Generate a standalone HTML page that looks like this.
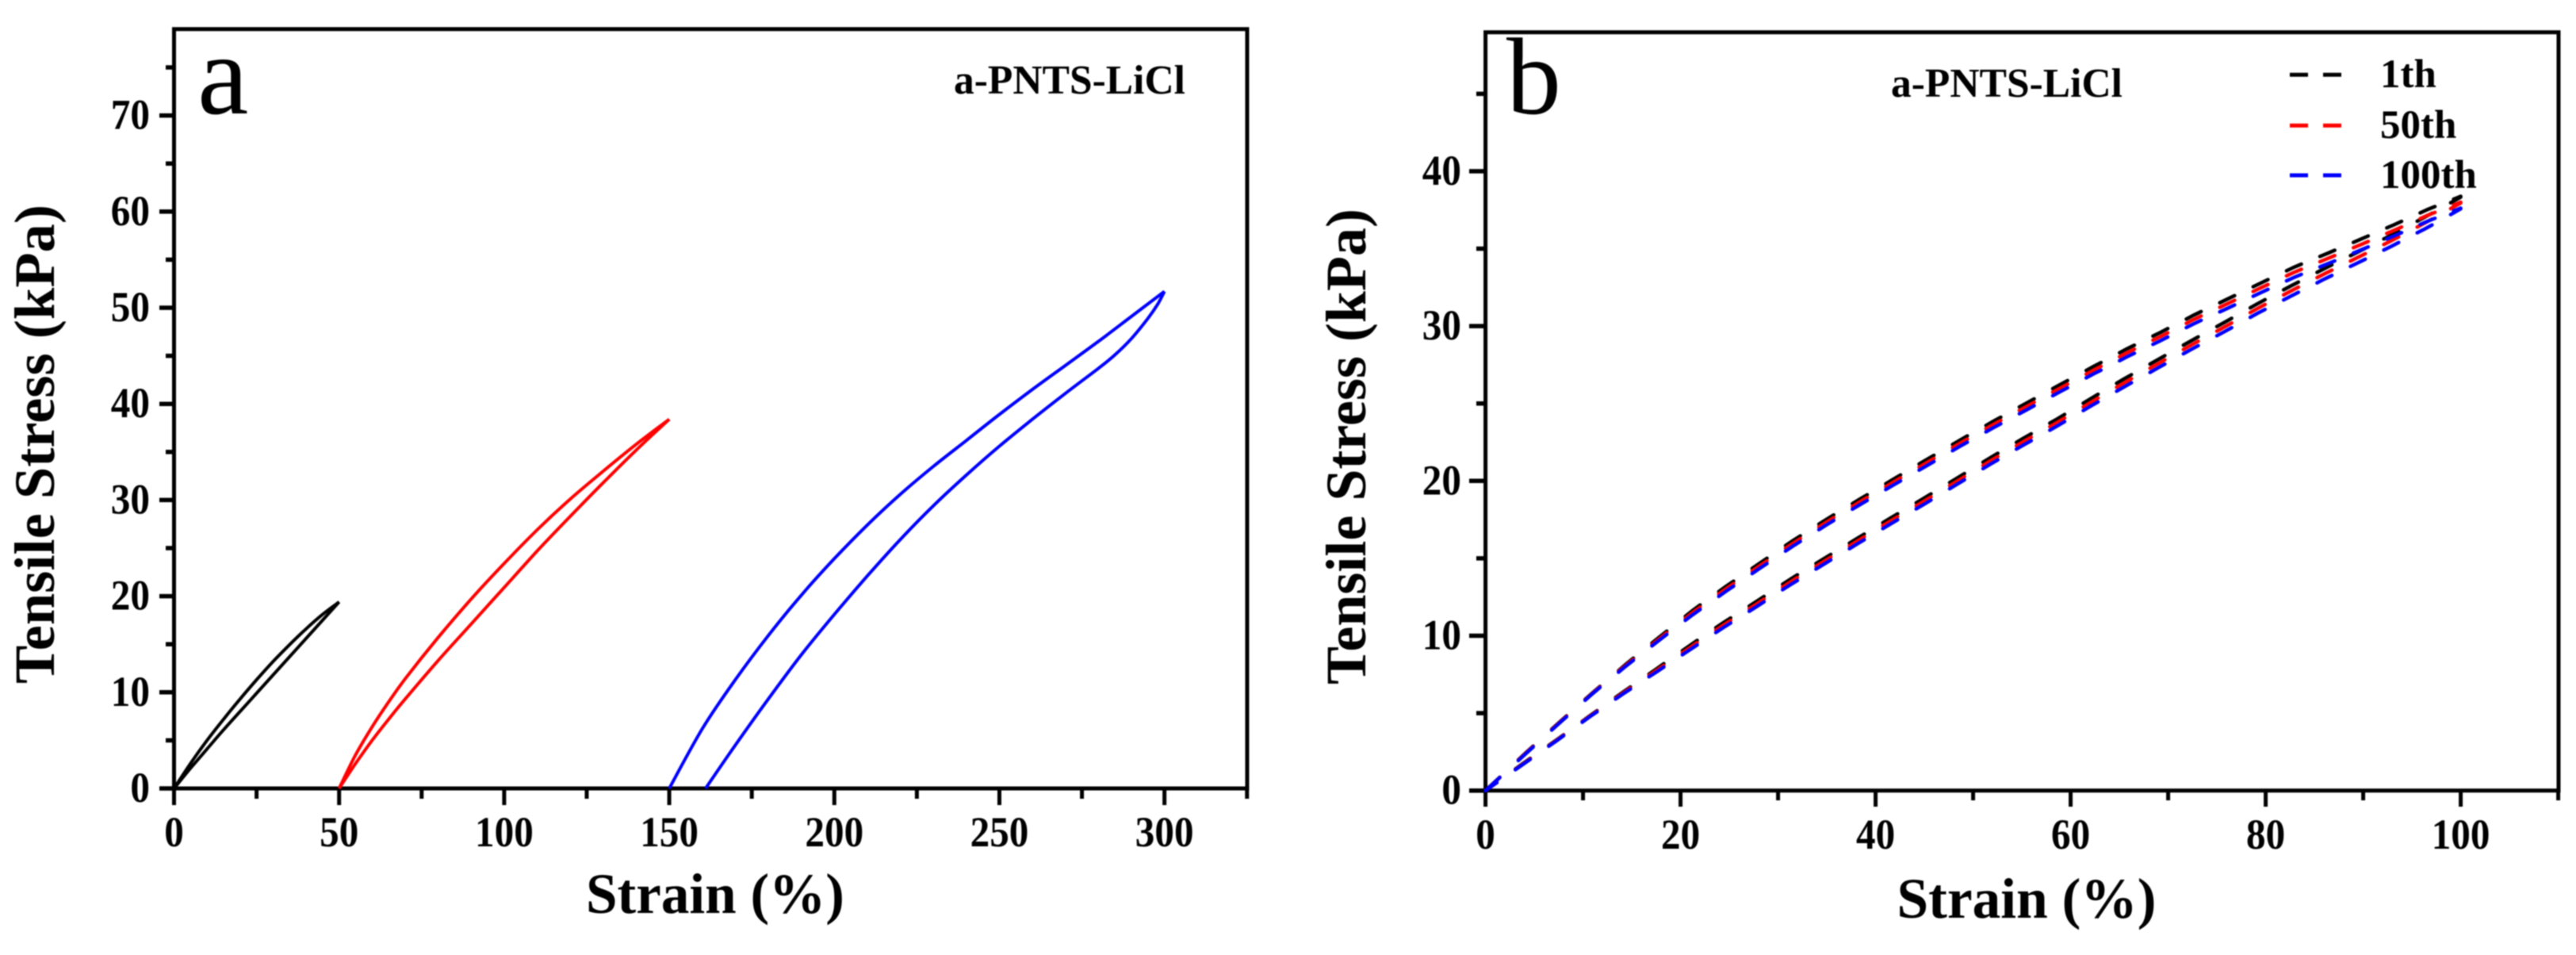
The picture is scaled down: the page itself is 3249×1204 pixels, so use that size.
<!DOCTYPE html>
<html lang="en">
<head>
<meta charset="utf-8">
<title>a-PNTS-LiCl cyclic tensile stress-strain curves</title>
<style>
html,body{margin:0;padding:0;background:#fff;width:3249px;height:1204px;overflow:hidden}
svg{display:block;filter:blur(.7px)}
text{font-family:"Liberation Serif",serif;font-weight:bold;fill:#000}
</style>
</head>
<body>
<svg id="fig" xmlns="http://www.w3.org/2000/svg" width="3249" height="1204" viewBox="0 0 3249 1204">
  <rect x="0" y="0" width="3249" height="1204" fill="#fff"/>
  <g id="panelA">
    <rect x="219.5" y="36.7" width="1353.5" height="957.3" fill="none" stroke="#000" stroke-width="5"/>
    <text x="249" y="143" font-size="145" style="font-weight:normal">a</text>
    <text x="1203" y="118" font-size="52" textLength="292" lengthAdjust="spacingAndGlyphs">a-PNTS-LiCl</text>
    <text x="902" y="1151" font-size="72" text-anchor="middle" textLength="326" lengthAdjust="spacingAndGlyphs">Strain (%)</text>
    <text transform="translate(68 560) rotate(-90)" font-size="72" text-anchor="middle" textLength="604" lengthAdjust="spacingAndGlyphs">Tensile Stress (kPa)</text>
  </g>
  <g id="panelB">
    <rect x="1873.6" y="40.7" width="1353.4" height="956" fill="none" stroke="#000" stroke-width="5"/>
    <text x="1900" y="143" font-size="138" style="font-weight:normal">b</text>
    <text x="2385" y="122" font-size="52" textLength="292" lengthAdjust="spacingAndGlyphs">a-PNTS-LiCl</text>
    <text x="2556" y="1157" font-size="72" text-anchor="middle" textLength="327" lengthAdjust="spacingAndGlyphs">Strain (%)</text>
    <text transform="translate(1722 563) rotate(-90)" font-size="72" text-anchor="middle" textLength="600" lengthAdjust="spacingAndGlyphs">Tensile Stress (kPa)</text>
    <g>
      <g>
        <line x1="2888" y1="94.3" x2="2953" y2="94.3" stroke="#000" stroke-width="5" stroke-dasharray="23 19"/>
        <text x="3002" y="110" font-size="51">1th</text>
      </g>
      <g>
        <line x1="2888" y1="158.3" x2="2953" y2="158.3" stroke="#f00" stroke-width="5" stroke-dasharray="23 19"/>
        <text x="3002" y="174" font-size="51">50th</text>
      </g>
      <g>
        <line x1="2888" y1="221" x2="2953" y2="221" stroke="#00f" stroke-width="5" stroke-dasharray="23 19"/>
        <text x="3002" y="237" font-size="51">100th</text>
      </g>
    </g>
  </g>
</svg>
<script>
// ---------- Panel a tick values ----------
const aXMajor = [0, 50, 100, 150, 200, 250, 300];
const aXMinor = [25, 75, 125, 175, 225, 275, 325];
const aYMajor = [0, 10, 20, 30, 40, 50, 60, 70];
const aYMinor = [5, 15, 25, 35, 45, 55, 65, 75];

// ---------- Panel a series (strain %, stress kPa) ----------
const aBlackLoadStrain = [0, 5, 10, 15, 20, 25, 30, 35, 40, 45, 50];
const aBlackLoadStress = [0, 2.6, 5.0, 7.2, 9.3, 11.3, 13.2, 14.95, 16.6, 18.1, 19.4];
const aBlackUnloadStrain = [0, 5, 10, 15, 20, 25, 30, 35, 40, 45, 50];
const aBlackUnloadStress = [0, 2.1, 4.1, 6.1, 8.0, 9.9, 11.8, 13.7, 15.6, 17.5, 19.4];

const aRedLoadStrain = [50, 55, 60, 65, 70, 80, 90, 100, 110, 120, 130, 140, 150];
const aRedLoadStress = [0, 3.5, 6.4, 9.0, 11.4, 15.7, 19.7, 23.4, 26.9, 30.1, 33, 35.8, 38.4];
const aRedUnloadStrain = [50, 55, 60, 65, 70, 80, 90, 100, 110, 120, 130, 140, 150];
const aRedUnloadStress = [0, 2.6, 5.0, 7.2, 9.3, 13.3, 17.1, 20.9, 24.7, 28.3, 31.8, 35.2, 38.4];

const aBlueLoadStrain = [150, 160, 170, 180, 190, 200, 210, 220, 230, 240, 250, 260, 270, 280, 290, 300];
const aBlueLoadStress = [0, 6.2, 11.3, 15.9, 20.1, 23.9, 27.4, 30.6, 33.5, 36.2, 38.9, 41.5, 44, 46.5, 49.1, 51.7];
const aBlueUnloadStrain = [161, 170, 180, 190, 200, 210, 220, 230, 240, 250, 260, 270, 280, 285, 290, 295, 298, 300];
const aBlueUnloadStress = [0, 4.5, 9.3, 13.9, 18.1, 22.1, 25.9, 29.4, 32.6, 35.6, 38.4, 41.1, 43.7, 45.1, 46.8, 48.9, 50.4, 51.7];

// ---------- Panel b tick values ----------
const bXMajor = [0, 20, 40, 60, 80, 100];
const bXMinor = [10, 30, 50, 70, 90, 110];
const bYMajor = [0, 10, 20, 30, 40];
const bYMinor = [5, 15, 25, 35, 45];

// ---------- Panel b series (strain %, stress kPa) ----------
const bLoadStrain = [0, 4.2, 7.6, 11, 14.4, 18, 21.25, 24.7, 28.2, 31.6, 35, 38.4, 41.9, 45.3, 48.7, 52.1, 55.6, 58.8, 62.2, 65.7, 69.3, 72.7, 76.1, 79.6, 83, 86.5, 89.9, 93.4, 96.6, 100];
const bLoad1th = [0, 2.48, 4.43, 6.33, 8.16, 10, 11.64, 13.21, 14.72, 16.18, 17.53, 18.83, 20.14, 21.4, 22.65, 23.86, 25.07, 26.18, 27.34, 28.51, 29.62, 30.73, 31.75, 32.81, 33.83, 34.74, 35.65, 36.61, 37.53, 38.38];
const bLoad50th = [0, 2.45, 4.4, 6.3, 8.1, 9.9, 11.5, 13.05, 14.55, 16, 17.35, 18.65, 19.95, 21.2, 22.45, 23.65, 24.85, 25.95, 27.1, 28.25, 29.35, 30.45, 31.45, 32.5, 33.5, 34.4, 35.3, 36.25, 37.15, 38];
const bLoad100th = [0, 2.42, 4.37, 6.27, 8.04, 9.8, 11.36, 12.89, 14.38, 15.82, 17.17, 18.47, 19.76, 21, 22.25, 23.44, 24.63, 25.72, 26.86, 27.99, 29.08, 30.17, 31.15, 32.19, 33.17, 34.06, 34.95, 35.89, 36.77, 37.62];

const bUnloadStrain = [0, 3.8, 7.3, 10.7, 14.1, 17.5, 21, 24.3, 27.8, 31.2, 34.7, 38.1, 41.5, 45, 48.4, 51.8, 55.2, 58.7, 62, 65.4, 68.9, 72.3, 75.8, 79.2, 82.7, 86.1, 89.5, 93, 96.6, 100];
const bUnload1th = [0, 1.73, 3.28, 4.83, 6.36, 7.85, 9.39, 10.81, 12.22, 13.63, 14.98, 16.28, 17.59, 18.9, 20.2, 21.51, 22.77, 24.03, 25.29, 26.56, 27.82, 29.03, 30.25, 31.46, 32.63, 33.74, 34.8, 35.91, 37.13, 38.33];
const bUnload50th = [0, 1.7, 3.25, 4.8, 6.3, 7.75, 9.25, 10.65, 12.05, 13.45, 14.8, 16.1, 17.4, 18.7, 20, 21.3, 22.55, 23.8, 25.05, 26.3, 27.55, 28.75, 29.95, 31.15, 32.3, 33.4, 34.45, 35.55, 36.75, 37.95];
const bUnload100th = [0, 1.67, 3.22, 4.77, 6.24, 7.65, 9.11, 10.49, 11.88, 13.27, 14.62, 15.92, 17.21, 18.5, 19.8, 21.09, 22.33, 23.57, 24.81, 26.04, 27.28, 28.47, 29.65, 30.84, 31.97, 33.06, 34.1, 35.19, 36.37, 37.57];

// ---------- Axis functions ----------
function ax(v) { return 219.5 + v * 4.164; }
function ay(v) { return 994 - v * 12.12; }
function bx(v) { return 1873.6 + v * 12.3; }
function by(v) { return 996.7 - v * 19.52; }

const NS = 'http://www.w3.org/2000/svg';
const groupA = document.getElementById('panelA');
const groupB = document.getElementById('panelB');

function makeLine(parent, x1, y1, x2, y2, color, width) {
  const el = document.createElementNS(NS, 'line');
  el.setAttribute('x1', x1);
  el.setAttribute('y1', y1);
  el.setAttribute('x2', x2);
  el.setAttribute('y2', y2);
  el.setAttribute('stroke', color);
  el.setAttribute('stroke-width', width);
  parent.appendChild(el);
  return el;
}
function makeLabel(parent, x, y, str, anchor) {
  const el = document.createElementNS(NS, 'text');
  el.setAttribute('x', x);
  el.setAttribute('y', y);
  el.setAttribute('font-size', 54);
  el.setAttribute('text-anchor', anchor);
  el.setAttribute('textLength', str.length * 24.6);
  el.setAttribute('lengthAdjust', 'spacingAndGlyphs');
  el.textContent = str;
  parent.appendChild(el);
  return el;
}
// Catmull-Rom smoothing through the data points, in pixel space
function smoothPath(xs, ys, fx, fy) {
  const p = xs.map(function (v, i) { return [fx(v), fy(ys[i])]; });
  let d = 'M' + p[0][0].toFixed(1) + ' ' + p[0][1].toFixed(1);
  for (let i = 0; i < p.length - 1; i++) {
    const p0 = p[Math.max(i - 1, 0)], p1 = p[i], p2 = p[i + 1], p3 = p[Math.min(i + 2, p.length - 1)];
    const c1x = p1[0] + (p2[0] - p0[0]) / 6, c1y = p1[1] + (p2[1] - p0[1]) / 6;
    const c2x = p2[0] - (p3[0] - p1[0]) / 6, c2y = p2[1] - (p3[1] - p1[1]) / 6;
    d += 'C' + c1x.toFixed(1) + ' ' + c1y.toFixed(1) + ' ' + c2x.toFixed(1) + ' ' + c2y.toFixed(1) + ' ' + p2[0].toFixed(1) + ' ' + p2[1].toFixed(1);
  }
  return d;
}
function makeCurve(parent, d, color) {
  const el = document.createElementNS(NS, 'path');
  el.setAttribute('d', d);
  el.setAttribute('fill', 'none');
  el.setAttribute('stroke', color);
  el.setAttribute('stroke-width', 4);
  el.setAttribute('stroke-linejoin', 'round');
  parent.appendChild(el);
  return el;
}
function lerp(xs, ys, x) {
  for (let i = 0; i < xs.length - 1; i++) {
    if (x <= xs[i + 1]) {
      const t = (x - xs[i]) / (xs[i + 1] - xs[i]);
      return ys[i] + t * (ys[i + 1] - ys[i]);
    }
  }
  return ys[ys.length - 1];
}
// Dashes repeat at a fixed strain period, as in the original plot
function dashedPath(xs, ys, firstCentre) {
  const period = 3.425, half = 0.76;
  let d = '';
  for (let c = firstCentre; c - half < xs[xs.length - 1]; c += period) {
    const a = Math.max(c - half, xs[0]);
    const b = Math.min(c + half, xs[xs.length - 1]);
    d += 'M' + bx(a).toFixed(1) + ' ' + by(lerp(xs, ys, a)).toFixed(1);
    const mid = (a + b) / 2;
    d += 'L' + bx(mid).toFixed(1) + ' ' + by(lerp(xs, ys, mid)).toFixed(1);
    d += 'L' + bx(b).toFixed(1) + ' ' + by(lerp(xs, ys, b)).toFixed(1);
  }
  return d;
}
function makeDashes(parent, d, color) {
  const el = document.createElementNS(NS, 'path');
  el.setAttribute('d', d);
  el.setAttribute('fill', 'none');
  el.setAttribute('stroke', color);
  el.setAttribute('stroke-width', 4.5);
  el.setAttribute('stroke-linecap', 'round');
  parent.appendChild(el);
  return el;
}

// ---------- Panel a ticks ----------
aXMajor.forEach(function (v) {
  const t = makeLine(groupA, ax(v), 994, ax(v), 1015, '#000', 5);
  
  
  const l = makeLabel(groupA, ax(v), 1067, String(v), 'middle');
  
  
});
aXMinor.forEach(function (v) {
  const t = makeLine(groupA, ax(v), 994, ax(v), 1007, '#000', 5);
  
  
});
aYMajor.forEach(function (v) {
  const t = makeLine(groupA, 201, ay(v), 219.5, ay(v), '#000', 5.5);
  
  
  const l = makeLabel(groupA, 189, ay(v) + 17, String(v), 'end');
  
  
});
aYMinor.forEach(function (v) {
  const t = makeLine(groupA, 209, ay(v), 219.5, ay(v), '#000', 5.5);
  
  
});

// ---------- Panel a curves ----------
const c1 = makeCurve(groupA, smoothPath(aBlackLoadStrain, aBlackLoadStress, ax, ay), '#000');


const c2 = makeCurve(groupA, smoothPath(aBlackUnloadStrain, aBlackUnloadStress, ax, ay), '#000');


const c3 = makeCurve(groupA, smoothPath(aRedLoadStrain, aRedLoadStress, ax, ay), '#f00');


const c4 = makeCurve(groupA, smoothPath(aRedUnloadStrain, aRedUnloadStress, ax, ay), '#f00');


const c5 = makeCurve(groupA, smoothPath(aBlueLoadStrain, aBlueLoadStress, ax, ay), '#00f');


const c6 = makeCurve(groupA, smoothPath(aBlueUnloadStrain, aBlueUnloadStress, ax, ay), '#00f');



// ---------- Panel b ticks ----------
bXMajor.forEach(function (v) {
  const t = makeLine(groupB, bx(v), 996.7, bx(v), 1017, '#000', 5);
  
  
  const l = makeLabel(groupB, bx(v), 1070, String(v), 'middle');
  
  
});
bXMinor.forEach(function (v) {
  const t = makeLine(groupB, bx(v), 996.7, bx(v), 1009, '#000', 5);
  
  
});
bYMajor.forEach(function (v) {
  const t = makeLine(groupB, 1853, by(v), 1873.6, by(v), '#000', 5.5);
  
  
  const l = makeLabel(groupB, 1843, by(v) + 17, String(v), 'end');
  
  
});
bYMinor.forEach(function (v) {
  const t = makeLine(groupB, 1862, by(v), 1873.6, by(v), '#000', 5.5);
  
  
});

// ---------- Panel b dashed curves ----------
const d1 = makeDashes(groupB, dashedPath(bLoadStrain, bLoad1th, 0.7), '#000');


const d2 = makeDashes(groupB, dashedPath(bUnloadStrain, bUnload1th, 0.4), '#000');


const d3 = makeDashes(groupB, dashedPath(bLoadStrain, bLoad50th, 0.7), '#f00');


const d4 = makeDashes(groupB, dashedPath(bUnloadStrain, bUnload50th, 0.4), '#f00');


const d5 = makeDashes(groupB, dashedPath(bLoadStrain, bLoad100th, 0.7), '#00f');


const d6 = makeDashes(groupB, dashedPath(bUnloadStrain, bUnload100th, 0.4), '#00f');


</script>
</body>
</html>
